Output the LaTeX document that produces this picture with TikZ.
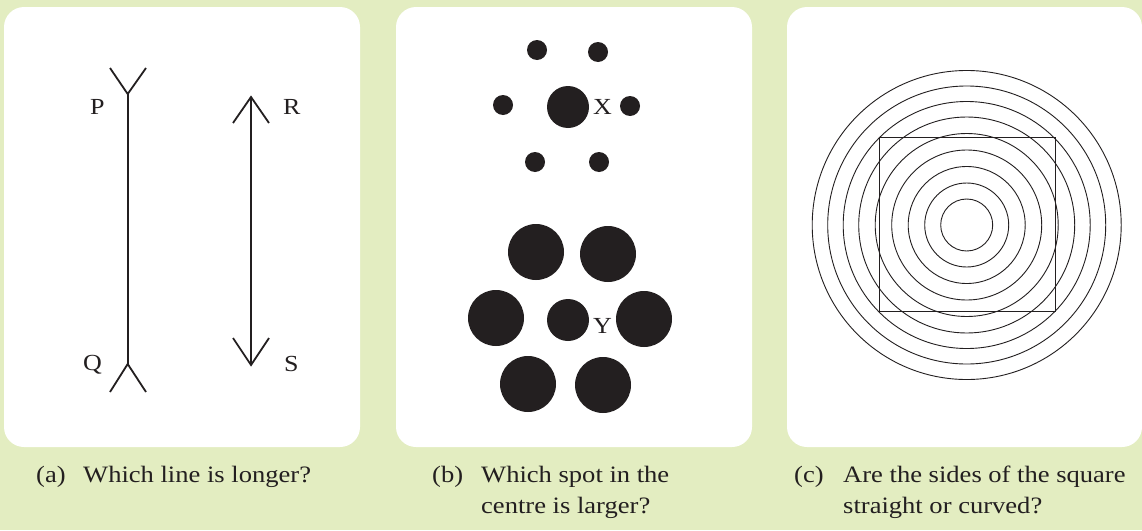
\documentclass[tikz,border=0pt]{standalone}
\usepackage{fontspec}
\setmainfont[FakeStretch=1.13]{Liberation Serif}
\definecolor{bggreen}{HTML}{E3EDC1}
\definecolor{ink}{HTML}{231F20}
\begin{document}
\begin{tikzpicture}[x=1pt,y=-1pt,
  panel/.style={fill=white,rounded corners=20pt},
  fig/.style={draw=ink,line width=1.8pt},
  ring/.style={draw=ink,line width=0.9pt},
  dot/.style={fill=ink},
  lbl/.style={anchor=base west,inner sep=0pt,text=ink,font=\fontsize{23}{28}\selectfont},
  captext/.style={anchor=base west,inner sep=0pt,text=ink,font=\fontsize{23.5}{31}\selectfont}]
\fill[bggreen] (0,0) rectangle (1142,530);
\useasboundingbox (0,0) rectangle (1142,530);
% panels
\fill[panel] (4,7) rectangle (360,447);
\fill[panel] (396,7) rectangle (752,447);
\fill[panel] (787,7) rectangle (1142,447);

% ---- panel (a)
\coordinate (p) at (127.7,94);
\coordinate (q) at (127.7,364);
\coordinate (pl) at (110,68);
\coordinate (pr) at (146,68);
\coordinate (ql) at (110,392);
\coordinate (qr) at (146,392);
\draw[fig] (p) -- (q);
\draw[fig] (pl) -- (p) -- (pr);
\draw[fig] (ql) -- (q) -- (qr);
\coordinate (r) at (251,97);
\coordinate (s) at (251,365);
\coordinate (rl) at (233,123);
\coordinate (rr) at (269,123);
\coordinate (sl) at (233,338);
\coordinate (sr) at (269,338);
\draw[fig] (r) -- (s);
\draw[fig] (rl) -- (r) -- (rr);
\draw[fig] (sl) -- (s) -- (sr);
\node[lbl] (P) at (90,114) {P};
\node[lbl] (Q) at (83,370) {Q};
\node[lbl] (R) at (283,114) {R};
\node[lbl] (S) at (284,371) {S};

% ---- panel (b)
\fill[dot] (537,50) circle (10pt);
\fill[dot] (598,52) circle (10pt);
\fill[dot] (503,105) circle (10pt);
\fill[dot] (630,106) circle (10pt);
\fill[dot] (535,162) circle (10pt);
\fill[dot] (599,162) circle (10pt);
\fill[dot] (568,107) circle (21pt);
\node[lbl] (X) at (593,114) {X};
\fill[dot] (536,252) circle (28pt);
\fill[dot] (608,254) circle (28pt);
\fill[dot] (496,318) circle (28pt);
\fill[dot] (644,319) circle (28pt);
\fill[dot] (528,384) circle (28pt);
\fill[dot] (603,385) circle (28pt);
\fill[dot] (568,320) circle (21pt);
\node[lbl] (Y) at (593,333) {Y};

% ---- panel (c)
\coordinate (c) at (966.7,225);
\foreach \r in {26,42,58.5,75,91.5,108,123.5,139,154.5}
  \draw[ring] (c) circle (\r pt);
\draw[ring] (879.3,137.3) rectangle (1055.3,311);

% ---- captions
\node[captext] (la) at (36,482) {(a)};
\node[captext] (ta) at (83,482) {Which line is longer?};
\node[captext] (lb) at (432,482) {(b)};
\node[captext] (tb) at (481,482) {Which spot in the};
\node[captext] (tb2) at (481,513) {centre is larger?};
\node[captext] (lc) at (794,482) {(c)};
\node[captext] (tc) at (843,482) {Are the sides of the square};
\node[captext] (tc2) at (843,513) {straight or curved?};
\end{tikzpicture}
\end{document}
